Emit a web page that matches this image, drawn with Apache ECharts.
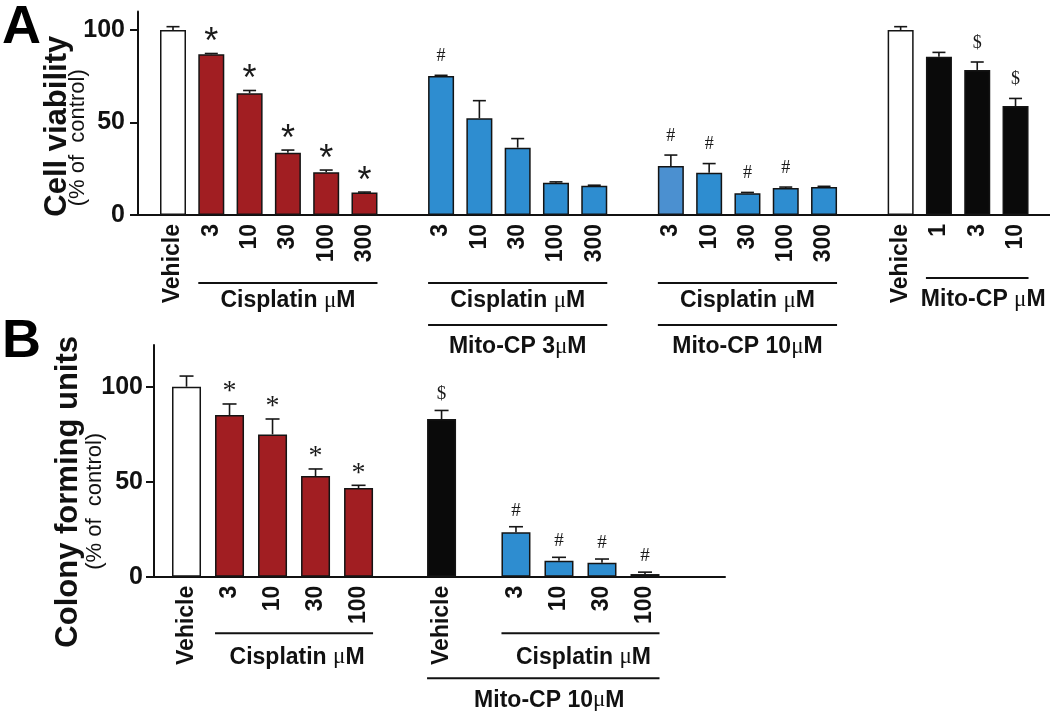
<!DOCTYPE html>
<html><head><meta charset="utf-8">
<script src="https://cdn.jsdelivr.net/npm/echarts@6/dist/echarts.min.js"></script>
<style>html,body{margin:0;padding:0;background:#fff}#c{width:1050px;height:714px}</style>
</head><body><div id="c"></div>
<script>
// ---------- Panel A: cell viability ----------
const aVehicleLabel = ['Vehicle'];
const aCisLabels = ['3', '10', '30', '100', '300'];
const aMitoLabels = ['1', '3', '10'];
const aVehicle = [100];
const aVehicleErr = [1.8];
const aCis = [86.9, 65.8, 33.7, 23.1, 12.1];
const aCisErr = [0.4, 1.5, 1.4, 1.2, 0.3];
const aCisMarks = ['*', '*', '*', '*', '*'];
const aCisMito3 = [75.1, 52.3, 36.4, 17.5, 15.8];
const aCisMito3Err = [0.4, 9.5, 4.9, 0.4, 0.3];
const aCisMito3Marks = ['#', '', '', '', ''];
const aCisMito10 = [26.5, 22.9, 11.8, 14.6, 15.2];
const aCisMito10Err = [5.9, 4.9, 0.4, 0.5, 0.3];
const aCisMito10Marks = ['#', '#', '#', '#', ''];
const aVehicle2 = [100];
const aVehicle2Err = [1.8];
const aMito = [85.6, 78.4, 58.9];
const aMitoErr = [2.3, 4.3, 4.1];
const aMitoMarks = ['', '$', '$'];
const aYTicks = [0, 50, 100];

// ---------- Panel B: colony forming units ----------
const bVehicleLabel = ['Vehicle'];
const bCisLabels = ['3', '10', '30', '100'];
const bVehicle = [100];
const bVehicleErr = [5.6];
const bCis = [85.1, 74.9, 53.0, 46.7];
const bCisErr = [5.8, 8.1, 3.7, 1.4];
const bCisMarks = ['*', '*', '*', '*'];
const bMitoVehicle = [83.0];
const bMitoVehicleErr = [4.5];
const bMitoVehicleMarks = ['$'];
const bCisMito = [23.4, 8.4, 7.4, 1.4];
const bCisMitoErr = [2.9, 1.8, 1.9, 1.0];
const bCisMitoMarks = ['#', '#', '#', '#'];
const bYTicks = [0, 50, 100];

// ---------- styling / layout ----------
const FF = "'Liberation Sans', Arial, Helvetica, sans-serif";
const SERIF = "'Liberation Serif', 'Times New Roman', serif";
const INK = '#111111';
const COL = { white: '#ffffff', red: '#a11e22', blue: '#2e8dd0', lblue: '#4b90d0', black: '#0a0a0a' };

const groupsA = [
  { start: 0, labels: aVehicleLabel, values: aVehicle, errs: aVehicleErr, marks: [''], color: COL.white },
  { start: 1, labels: aCisLabels, values: aCis, errs: aCisErr, marks: aCisMarks, color: COL.red },
  { start: 7, labels: aCisLabels, values: aCisMito3, errs: aCisMito3Err, marks: aCisMito3Marks, color: COL.blue },
  { start: 13, labels: aCisLabels, values: aCisMito10, errs: aCisMito10Err, marks: aCisMito10Marks, color: COL.blue, first: COL.lblue },
  { start: 19, labels: aVehicleLabel, values: aVehicle2, errs: aVehicle2Err, marks: [''], color: COL.white },
  { start: 20, labels: aMitoLabels, values: aMito, errs: aMitoErr, marks: aMitoMarks, color: COL.black }
];
const groupsB = [
  { start: 0, labels: bVehicleLabel, values: bVehicle, errs: bVehicleErr, marks: [''], color: COL.white },
  { start: 1, labels: bCisLabels, values: bCis, errs: bCisErr, marks: bCisMarks, color: COL.red },
  { start: 5.93, labels: bVehicleLabel, values: bMitoVehicle, errs: bMitoVehicleErr, marks: bMitoVehicleMarks, color: COL.black },
  { start: 7.66, labels: bCisLabels, values: bCisMito, errs: bCisMitoErr, marks: bCisMitoMarks, color: COL.blue }
];

function build(groups) {
  const bars = [], errs = [], marks = [], ticks = [], labelMap = {};
  groups.forEach(g => {
    g.values.forEach((v, i) => {
      const x = +(g.start + i).toFixed(2);
      const c = (i === 0 && g.first) ? g.first : g.color;
      bars.push({ value: [x, v], itemStyle: { color: c } });
      errs.push([x, v, g.errs[i]]);
      marks.push(g.marks[i] || '');
      ticks.push(x);
      labelMap[x.toFixed(2)] = g.labels[i];
    });
  });
  return { bars, errs, marks, ticks, labelMap };
}
const A = build(groupsA);
const B = build(groupsB);

function errRenderer(marks, cap, markOffset, starFont, starShift, otherFont) {
  return function (params, api) {
    const x = api.value(0), y = api.value(1), e = api.value(2);
    const p0 = api.coord([x, y]);
    const p1 = api.coord([x, y + e]);
    const st = { stroke: '#161616', lineWidth: 1.6 };
    const children = [
      { type: 'line', shape: { x1: p0[0], y1: p0[1], x2: p1[0], y2: p1[1] }, style: st },
      { type: 'line', shape: { x1: p1[0] - cap, y1: p1[1], x2: p1[0] + cap, y2: p1[1] }, style: st }
    ];
    const m = marks[params.dataIndex];
    if (m) {
      const isStar = m === '*';
      children.push({
        type: 'text',
        style: {
          text: m, x: p1[0], y: p1[1] - markOffset + (isStar ? starShift : 0),
          align: 'center', verticalAlign: 'middle',
          fontSize: isStar ? starFont.size : otherFont,
          fontFamily: isStar ? starFont.family : SERIF,
          fill: '#1a1a1a'
        }
      });
    }
    return { type: 'group', children };
  };
}

const axisLine = { show: true, onZero: false, lineStyle: { color: INK, width: 2 } };

function xAxisFor(gi, min, max, d) {
  return {
    type: 'value', gridIndex: gi, min, max,
    splitLine: { show: false },
    axisLine: axisLine,
    axisTick: { show: false },
    axisLabel: {
      customValues: d.ticks, rotate: 90, margin: 9,
      fontSize: 23, fontWeight: 'bold', fontFamily: FF, color: INK,
      formatter: v => d.labelMap[(+v).toFixed(2)] || ''
    }
  };
}
function yAxisFor(gi, max, ticks, name, rich, gap, margin) {
  return {
    type: 'value', gridIndex: gi, min: 0, max,
    splitLine: { show: false },
    axisLine: axisLine,
    axisTick: { show: true, length: 8, customValues: ticks, lineStyle: { color: INK, width: 2 } },
    axisLabel: { customValues: ticks, margin, fontSize: 25, fontWeight: 'bold', fontFamily: FF, color: INK },
    name, nameLocation: 'middle', nameRotate: 90, nameGap: gap, nameMoveOverlap: false,
    nameTextStyle: { rich }
  };
}

const chart = echarts.init(document.getElementById('c'), null, { renderer: 'canvas' });

const option = {
  animation: false,
  backgroundColor: '#ffffff',
  title: [
    { text: 'A', left: -3, top: -4, textStyle: { fontSize: 54, fontWeight: 'bold', fontFamily: FF, color: '#000' } },
    { text: 'B', left: -3, top: 310, textStyle: { fontSize: 54, fontWeight: 'bold', fontFamily: FF, color: '#000' } }
  ],
  grid: [
    { left: 138, right: 0, top: 11.5, height: 203.5 },
    { left: 154, right: 325, top: 344.9, height: 231.8 }
  ],
  xAxis: [xAxisFor(0, -0.914, 22.9, A), xAxisFor(1, -0.756, 12.52, B)],
  yAxis: [
    yAxisFor(0, 110, aYTicks, '{t|Cell viability}\n{s|(% of  control)}', {
      t: { fontSize: 31, fontWeight: 'bold', fontFamily: FF, color: INK, lineHeight: 24, padding: [0, 26, 0, 0] },
      s: { fontSize: 22, fontFamily: FF, color: INK, lineHeight: 17.4, padding: [0, 49, 0, 0] }
    }, 51, 13),
    yAxisFor(1, 122, bYTicks, '{t|Colony forming units}\n{s|(% of  control)}', {
      t: { fontSize: 31, fontWeight: 'bold', fontFamily: FF, color: INK, lineHeight: 35.4, padding: [0, 62, 0, 0] },
      s: { fontSize: 22, fontFamily: FF, color: INK, lineHeight: 18, padding: [0, 81, 0, 0] }
    }, 50, 11)
  ],
  series: [
    { type: 'bar', xAxisIndex: 0, yAxisIndex: 0, barWidth: 26, data: A.bars,
      itemStyle: { borderColor: '#141414', borderWidth: 1.5 } },
    { type: 'custom', xAxisIndex: 0, yAxisIndex: 0, data: A.errs, z: 5,
      renderItem: errRenderer(A.marks, 6.5, 19, { size: 36, family: FF }, 9, 18) },
    { type: 'bar', xAxisIndex: 1, yAxisIndex: 1, barWidth: 29, data: B.bars,
      itemStyle: { borderColor: '#141414', borderWidth: 1.5 } },
    { type: 'custom', xAxisIndex: 1, yAxisIndex: 1, data: B.errs, z: 5,
      renderItem: errRenderer(B.marks, 7, 16, { size: 28, family: SERIF }, 4, 19) }
  ]
};
chart.setOption(option);

// ---------- group brackets / labels under the axes ----------
function px(gi, x) { return chart.convertToPixel({ xAxisIndex: gi, yAxisIndex: gi }, [x, 0]); }
const graphics = [];
function bracket(gi, x0, x1, half, dy, text, textDy, textDx) {
  const a = px(gi, x0), b = px(gi, x1);
  const y = a[1] + dy;
  graphics.push({ type: 'line', silent: true,
    shape: { x1: a[0] - half, y1: y, x2: b[0] + half, y2: y },
    style: { stroke: INK, lineWidth: 2 } });
  if (text) {
    graphics.push({ type: 'text', silent: true,
      style: { text, x: (a[0] + b[0]) / 2 + (textDx || 0), y: a[1] + textDy,
        align: 'center', verticalAlign: 'middle',
        fontSize: 23, fontWeight: 'bold', fontFamily: FF, fill: INK,
        rich: { u: { fontSize: 23, fontWeight: 'normal', fontFamily: SERIF, fill: INK } } } });
  }
}
const gA = groupsA, gB = groupsB;
const last = g => g.start + g.values.length - 1;
bracket(0, gA[1].start, last(gA[1]), 13, 68, 'Cisplatin {u|μ}M', 86);
bracket(0, gA[2].start, last(gA[2]), 13, 68, 'Cisplatin {u|μ}M', 86);
bracket(0, gA[2].start, last(gA[2]), 13, 110, 'Mito-CP 3{u|μ}M', 132);
bracket(0, gA[3].start, last(gA[3]), 13, 68, 'Cisplatin {u|μ}M', 86);
bracket(0, gA[3].start, last(gA[3]), 13, 110, 'Mito-CP 10{u|μ}M', 132);
bracket(0, gA[5].start, last(gA[5]), 13, 63, 'Mito-CP {u|μ}M', 85, 6);
bracket(1, gB[1].start, last(gB[1]), 14.5, 56.5, 'Cisplatin {u|μ}M', 80.5, 3);
bracket(1, gB[3].start, last(gB[3]), 14.5, 56.5, 'Cisplatin {u|μ}M', 80.5, 3);
bracket(1, gB[2].start, last(gB[3]), 14.5, 101.5, 'Mito-CP 10{u|μ}M', 123.5, 6);
chart.setOption({ graphic: graphics });
</script>
</body></html>
